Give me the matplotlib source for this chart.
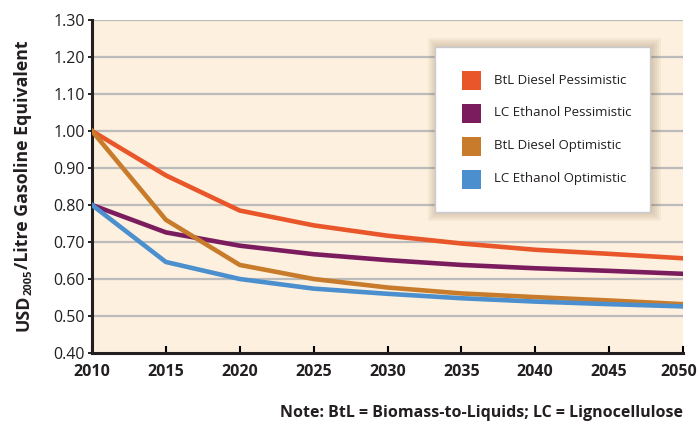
import matplotlib
matplotlib.use("Agg")
import matplotlib.pyplot as plt
from matplotlib.patches import Rectangle
import matplotlib.transforms as mtrans

years = [2010, 2015, 2020, 2025, 2030, 2035, 2040, 2045, 2050]
btl_pess = [1.00, 0.88, 0.785, 0.745, 0.717, 0.696, 0.679, 0.668, 0.656]
lc_pess = [0.80, 0.726, 0.690, 0.667, 0.651, 0.638, 0.629, 0.622, 0.614]
btl_opt = [1.00, 0.760, 0.638, 0.600, 0.577, 0.561, 0.551, 0.542, 0.532]
lc_opt = [0.80, 0.646, 0.600, 0.574, 0.560, 0.548, 0.539, 0.532, 0.526]
series_names = ["BtL Diesel Pessimistic", "LC Ethanol Pessimistic",
                "BtL Diesel Optimistic", "LC Ethanol Optimistic"]
colors = ["#E8562A", "#7B1C5E", "#C87C2B", "#4B8FCE"]
yticks = [0.40, 0.50, 0.60, 0.70, 0.80, 0.90, 1.00, 1.10, 1.20, 1.30]

plt.rcParams['font.family'] = ['Open Sans', 'DejaVu Sans']
TXT = "#231F20"

W, H = 698, 426
fig = plt.figure(figsize=(W / 100, H / 100), dpi=100)
ax = fig.add_axes([92 / W, 1 - 353 / H, (683 - 92) / W, (353 - 20) / H])
ax.set_facecolor("#FDF0DE")

for v in yticks[1:]:
    ax.axhline(v, color="#BBBBBB", lw=1.6, zorder=1)

for vals, c in zip([btl_pess, lc_pess, btl_opt, lc_opt], colors):
    ax.plot(years, vals, color=c, lw=3.3, zorder=3, solid_joinstyle='round')

ax.set_xlim(2010, 2050)
ax.set_ylim(0.40, 1.30)
ax.set_xticks(years)
ax.set_xticklabels([str(y) for y in years], fontweight='bold', fontsize=11.5, color=TXT)
ax.set_yticks(yticks)
ax.set_yticklabels([f"{v:.2f}" for v in yticks], fontsize=11.5, color=TXT)
ax.tick_params(axis='x', direction='in', length=5, width=1.5, pad=8)
ax.tick_params(axis='y', direction='out', length=3, width=1.2, pad=2)
# nudge last x label so it stays inside the figure
lbls = ax.get_xticklabels()
lbls[-1].set_transform(lbls[-1].get_transform() + mtrans.ScaledTranslation(-4 / 100, 0, fig.dpi_scale_trans))
for s in ['top', 'right']:
    ax.spines[s].set_visible(False)
for s in ['left', 'bottom']:
    ax.spines[s].set_linewidth(2.2)
    ax.spines[s].set_color(TXT)

# Y label built from pieces (subscript)
fig.canvas.draw()
renderer = fig.canvas.get_renderer()
pieces = [("USD", 12.8, 0), ("2005", 8, 3.5), ("/Litre Gasoline Equivalent", 12.8, 0)]
base_x = 28
total = 0
objs = []
for s, fs, dx in pieces:
    t = fig.text(0, 0, s, fontsize=fs, fontweight='bold', color=TXT,
                 rotation=90, rotation_mode='anchor', ha='left', va='baseline')
    bb = t.get_window_extent(renderer)
    objs.append((t, bb.height, dx))
    total += bb.height
y = (H - 186) - total / 2
for t, h, dx in objs:
    t.set_position(((base_x + dx) / W, y / H))
    y += h

# Legend box with shadow
lx0, ly0, lx1, ly1 = 435, 47, 650, 212
for i in range(5):
    off = 1 + i * 2
    fig.patches.append(Rectangle(((lx0 - off + 2) / W, 1 - (ly1 + off) / H),
                                 (lx1 - lx0 + 2 * off) / W, (ly1 - ly0 + 2 * off) / H,
                                 transform=fig.transFigure, facecolor="#7A5A3A",
                                 alpha=0.06, edgecolor='none', zorder=4))
fig.patches.append(Rectangle((lx0 / W, 1 - ly1 / H), (lx1 - lx0) / W, (ly1 - ly0) / H,
                             transform=fig.transFigure, facecolor="white",
                             edgecolor="#C8CCD2", lw=1, zorder=5))
rows_y = [80, 113, 146, 179]
for name, c, ry in zip(series_names, colors, rows_y):
    fig.patches.append(Rectangle((462 / W, 1 - (ry + 9.5) / H), 19 / W, 19 / H,
                                 transform=fig.transFigure, facecolor=c,
                                 edgecolor='none', zorder=6))
    fig.text(494 / W, 1 - ry / H, name, fontsize=9.5, color=TXT,
             va='center', ha='left', zorder=7)

fig.text(683 / W, 1 - 413 / H, "Note: BtL = Biomass-to-Liquids; LC = Lignocellulose",
         fontsize=11.5, fontweight='bold', color=TXT, ha='right', va='center')

fig.savefig("out.png", dpi=100)
